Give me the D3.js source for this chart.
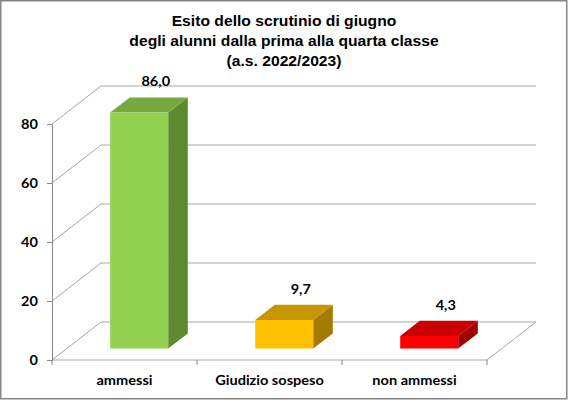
<!DOCTYPE html>
<html>
<head>
<meta charset="utf-8">
<title>Esito dello scrutinio di giugno</title>
<script src="https://cdn.jsdelivr.net/npm/d3@7"></script>
<style>
  body { margin:0; background:#fff; }
  .lbl { font-family: Lato, "Open Sans", sans-serif; font-weight:bold; font-size:13px; fill:#000; }
  .title { font-family: "Liberation Sans", Arial, sans-serif; font-weight:bold; font-size:14px; fill:#000; }
</style>
</head>
<body>
<script>
// data
var categories = ["ammessi", "Giudizio sospeso", "non ammessi"];
var values = [86.0, 9.7, 4.3];
var valueLabels = ["86,0", "9,7", "4,3"];
var barColors = ["#92D050", "#FFC000", "#FF0000"];
var topColors = ["#77A940", "#C89600", "#C80000"];
var sideColors = ["#5E8B2F", "#A47B00", "#A00000"];
var yTicks = [0, 20, 40, 60, 80];
var titleLines = ["Esito dello scrutinio di giugno", "degli alunni dalla prima alla quarta classe", "(a.s. 2022/2023)"];

var W = 568, H = 400, stretch = 1.12;

var svg = d3.select("body").append("svg")
    .attr("width", W).attr("height", H);

svg.append("rect")
    .attr("x", 0.75).attr("y", 0.75).attr("width", W - 2).attr("height", H - 2)
    .attr("fill", "#fff").attr("stroke", "#868686").attr("stroke-width", 1.5);

// front plane scales + depth vector of the 3d box
var x = d3.scaleBand().domain(categories).range([52, 487]).padding(0);
var y = d3.scaleLinear().domain([0, 80]).range([360, 124]);
var depth = { dx: 49, dy: -38 };
function P(px, py, d) { return [px + d * depth.dx, py + d * depth.dy]; }
function pts(a) { return a.map(function(p){ return p.join(","); }).join(" "); }

// gridlines: side wall + back wall
var grid = svg.append("g").attr("fill", "none").attr("stroke", "#A6A6A6").attr("stroke-width", 1);
yTicks.forEach(function(t) {
  var a = P(52, y(t), 0), b = P(52, y(t), 1), c = P(487, y(t), 1);
  grid.append("polyline").attr("points", pts([a, b, c]));
});
// floor front + right edges
var x0 = x.range()[0], x1 = x.range()[1];
grid.append("polyline").attr("points", pts([P(x0, y(0), 0), P(x1, y(0), 0), P(x1, y(0), 1)]));

// y axis
var yAxis = svg.append("g").attr("transform", "translate(52,0)")
    .call(d3.axisLeft(y).tickValues(yTicks).tickSize(5).tickSizeOuter(0).tickFormat(""));
yAxis.selectAll("path, line").attr("stroke", "#868686");

yTicks.forEach(function(t) {
  svg.append("text").attr("class", "lbl")
     .attr("transform", "translate(38," + (y(t) + 4.5) + ") scale(" + stretch + ",1)")
     .attr("text-anchor", "end").text(t);
});

// x axis tick marks at the band edges
var edges = categories.map(function(c){ return x(c); }).concat([x1]);
svg.append("g").selectAll("line").data(edges).enter().append("line")
   .attr("x1", function(d){ return d; }).attr("x2", function(d){ return d; })
   .attr("y1", y(0)).attr("y2", y(0) + 5)
   .attr("stroke", "#868686");

// category labels
categories.forEach(function(c) {
  svg.append("text").attr("class", "lbl")
     .attr("transform", "translate(" + (x(c) + x.bandwidth() / 2) + ",385) scale(" + stretch + ",1)")
     .attr("text-anchor", "middle").text(c);
});

// 3d columns: gap width 150%, sitting from depth 0.3 to 0.7, clipped at axis max
var bw = x.bandwidth() * 0.4, d0 = 0.3, d1 = 0.7;
var bars = svg.append("g");
categories.forEach(function(c, i) {
  var v = Math.min(values[i], y.domain()[1]);
  var L = x(c) + x.bandwidth() * 0.3, R = L + bw;
  var yt = y(v), yb = y(0);
  var f = [P(L, yt, d0), P(R, yt, d0), P(R, yb, d0), P(L, yb, d0)];
  var top = [P(L, yt, d0), P(R, yt, d0), P(R, yt, d1), P(L, yt, d1)];
  var side = [P(R, yt, d0), P(R, yt, d1), P(R, yb, d1), P(R, yb, d0)];
  bars.append("polygon").attr("points", pts(side)).attr("fill", sideColors[i]);
  bars.append("polygon").attr("points", pts(top)).attr("fill", topColors[i]);
  bars.append("polygon").attr("points", pts(f)).attr("fill", barColors[i]);

  var lp = P(L + bw / 2 - 3, yt, d1);
  svg.append("text").attr("class", "lbl")
     .attr("transform", "translate(" + lp[0] + "," + (lp[1] - 11) + ") scale(" + stretch + ",1)")
     .attr("text-anchor", "middle").text(valueLabels[i]);
});

// title
titleLines.forEach(function(t, i) {
  svg.append("text").attr("class", "title")
     .attr("transform", "translate(284," + (26 + i * 20) + ") scale(" + stretch + ",1)")
     .attr("text-anchor", "middle").text(t);
});
</script>
</body>
</html>
